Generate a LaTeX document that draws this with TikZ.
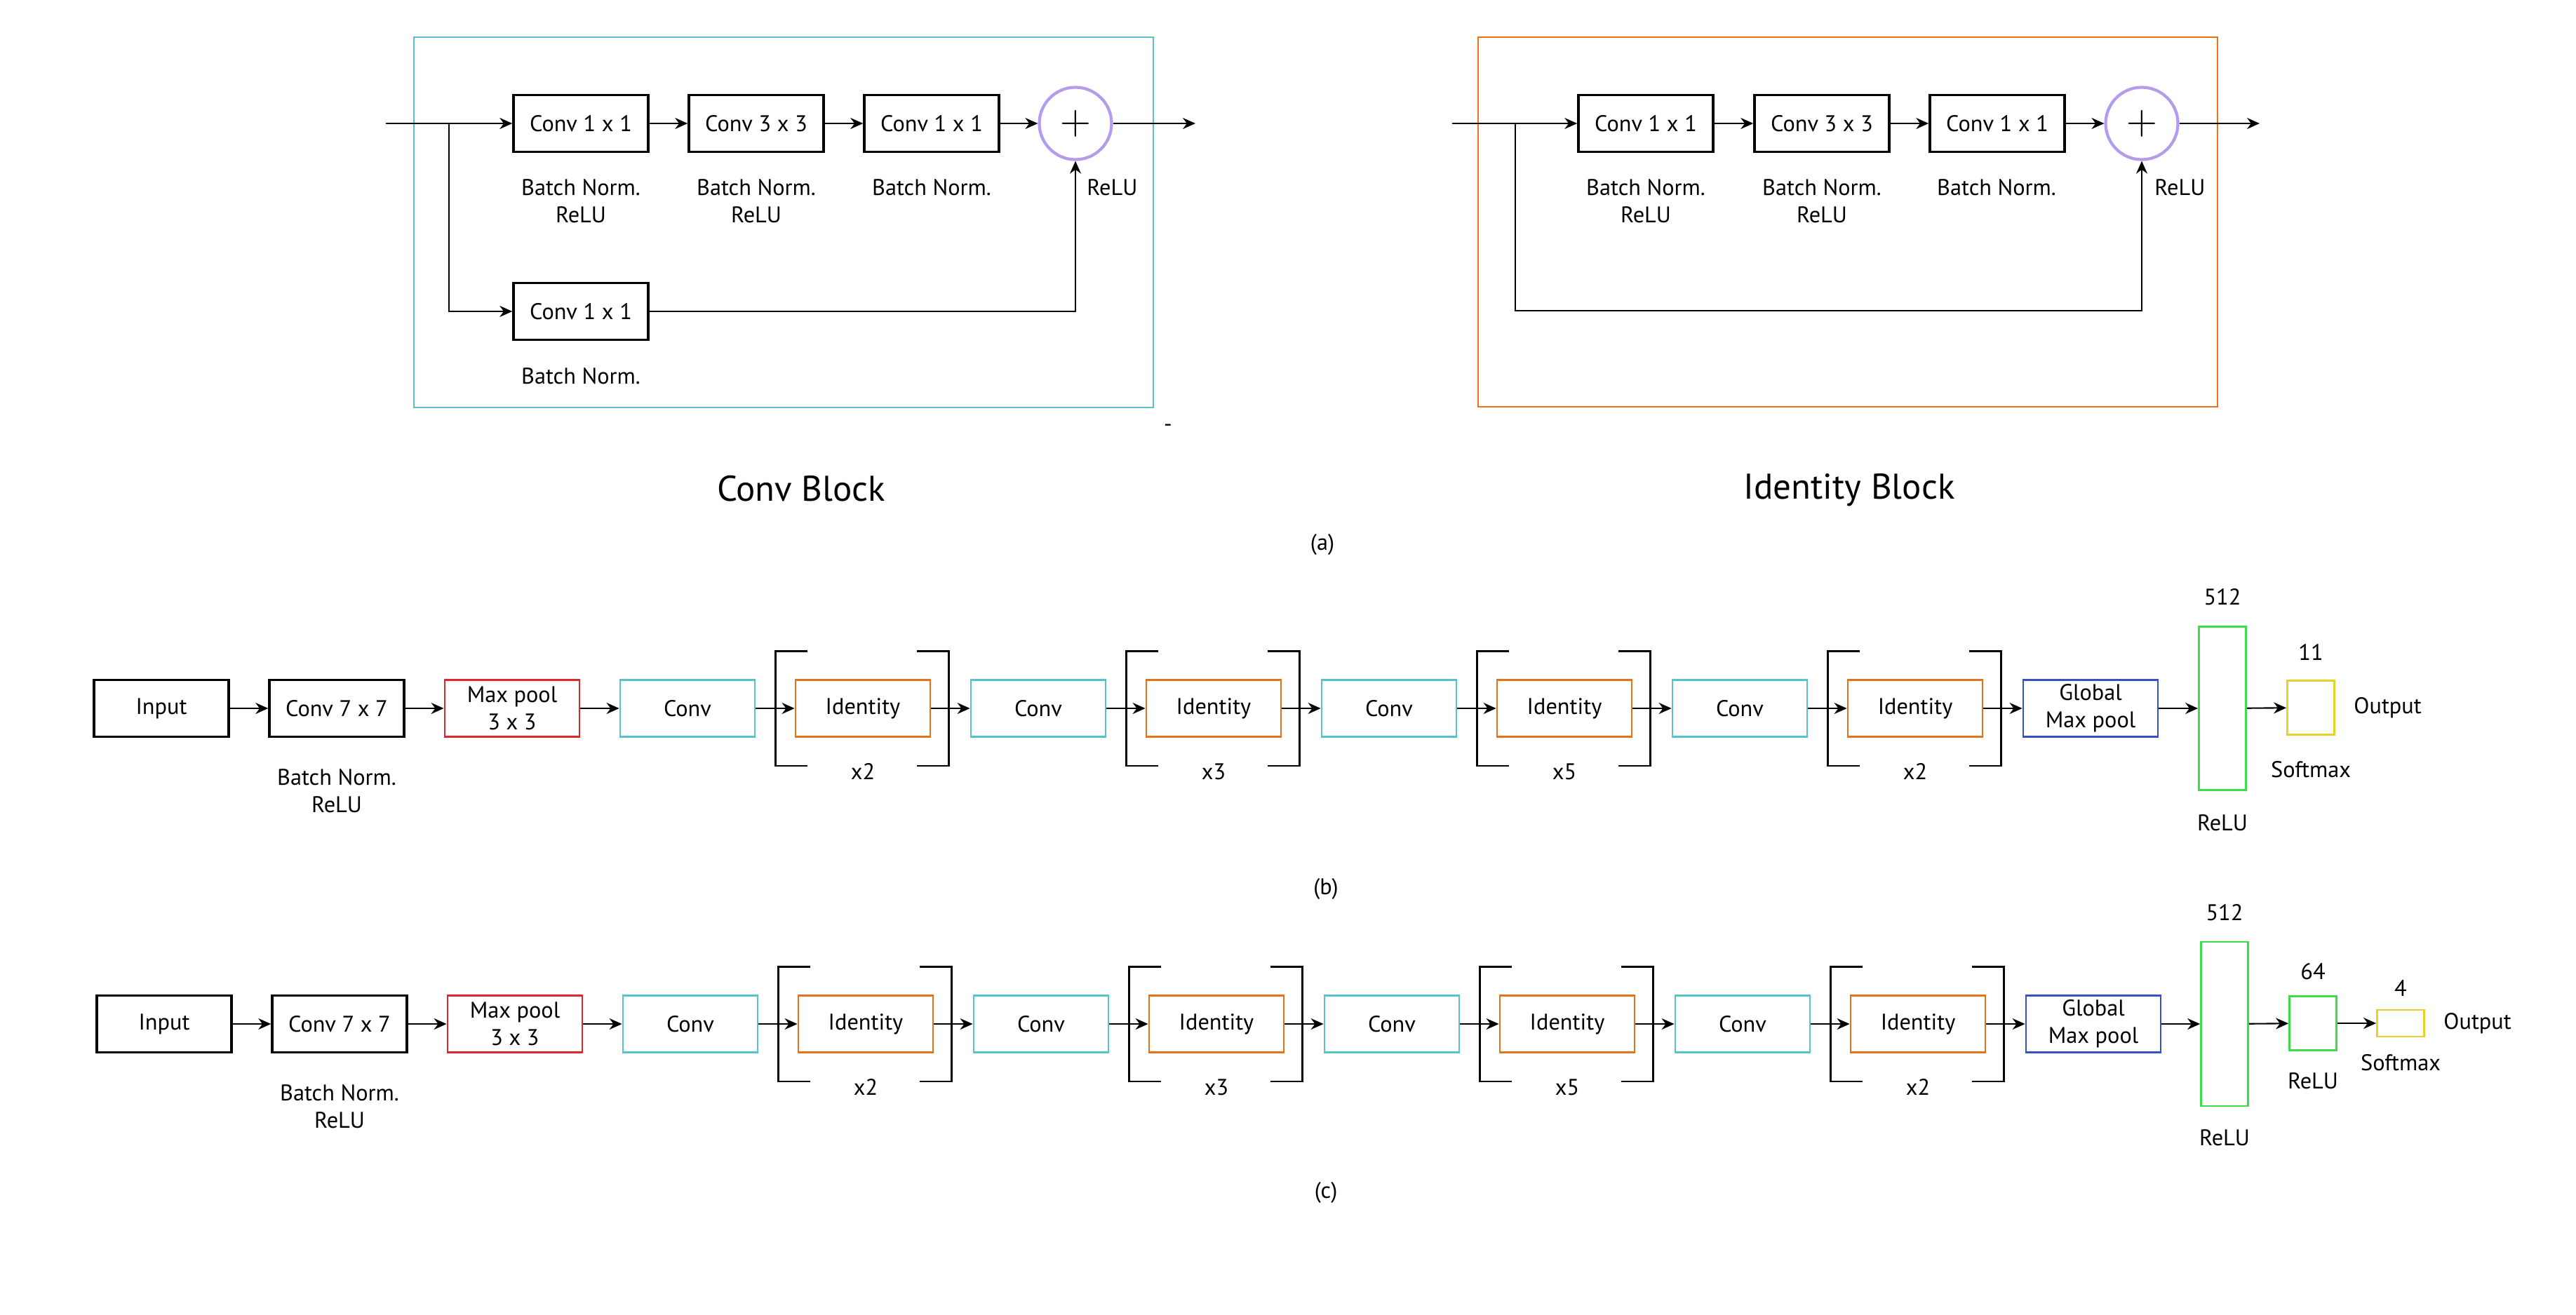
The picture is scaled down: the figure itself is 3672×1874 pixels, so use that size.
\documentclass[tikz,border=0pt]{standalone}
\usepackage{fontspec}
\setmainfont{PT Sans}
\usetikzlibrary{arrows.meta,calc}
\begin{document}
\begin{tikzpicture}[x=0.1mm, y=-0.1mm, thick]

  % Define Colors
  \definecolor{convteal}{RGB}{85,195,200}
  \definecolor{idorange}{RGB}{230,115,25}
  \definecolor{poolred}{RGB}{220,40,45}
  \definecolor{gmpblue}{RGB}{55,80,200}
  \definecolor{densegreen}{RGB}{60,220,75}
  \definecolor{outyellow}{RGB}{230,210,40}
  \definecolor{addpurple}{RGB}{180,155,235}

  % Node styles
  \tikzstyle{lbl}=[inner sep=0pt, align=center, font=\fontsize{9.2}{11}\selectfont]
  \tikzstyle{kbox}=[lbl, rectangle, draw=black, line width=1pt, minimum width=19.2mm, minimum height=8.1mm]
  \tikzstyle{cconv}=[kbox, draw=convteal, line width=0.8pt]
  \tikzstyle{cid}=[kbox, draw=idorange, line width=0.8pt]
  \tikzstyle{cpool}=[kbox, draw=poolred, line width=0.8pt]
  \tikzstyle{cgmp}=[kbox, draw=gmpblue, line width=0.8pt]
  \tikzstyle{cdense}=[lbl, rectangle, draw=densegreen, line width=0.8pt, minimum width=6.7mm]
  \tikzstyle{cout}=[lbl, rectangle, draw=outyellow, line width=0.8pt, minimum width=6.7mm]
  \tikzstyle{cadd}=[circle, draw=addpurple, line width=1.2pt, minimum size=10.3mm, inner sep=0pt, font=\fontsize{18}{18}\selectfont]
  \tikzstyle{title}=[inner sep=0pt, font=\fontsize{14.5}{17}\selectfont]

  \tikzstyle{arr}=[-{Stealth[length=1.8mm, width=1.6mm]}, line width=0.6pt]
  \tikzstyle{brk}=[line width=0.8pt]

  \useasboundingbox (0,0) rectangle (3672,1874);

  % Conv block
  \draw[convteal, line width=0.8pt] (590,53) rectangle (1644,581);
  \coordinate (cb_in) at (550,176);
  \coordinate (cb_br) at (640,176);
  \coordinate (cb_out) at (1704,176);
  \node[kbox] (cb_c1) at (828,176) {Conv 1 x 1};
  \node[kbox] (cb_c2) at (1078,176) {Conv 3 x 3};
  \node[kbox] (cb_c3) at (1328,176) {Conv 1 x 1};
  \node[cadd] (cb_add) at (1533,176) {$+$};
  \node[kbox] (cb_sc) at (828,444) {Conv 1 x 1};

  \node[lbl] (cb_t1) at (828,286.5) {Batch Norm.\\ReLU};
  \node[lbl] (cb_t2) at (1078,286.5) {Batch Norm.\\ReLU};
  \node[lbl] (cb_t3) at (1328,267) {Batch Norm.};
  \node[lbl, anchor=west] (cb_t4) at (1548,267) {ReLU};
  \node[lbl] (cb_t5) at (828,536) {Batch Norm.};
  \node[lbl] (cb_dash) at (1665,610) {-};

  \draw[arr] (cb_in) -- (cb_c1);
  \draw[arr] (cb_c1) -- (cb_c2);
  \draw[arr] (cb_c2) -- (cb_c3);
  \draw[arr] (cb_c3) -- (cb_add);
  \draw[arr] (cb_add) -- (cb_out);
  \draw[arr] (cb_br) |- (cb_sc);
  \draw[arr] (cb_sc) -| (cb_add);

  % Identity block
  \draw[idorange, line width=0.8pt] (2107,53) rectangle (3161,580);
  \coordinate (ib_in) at (2070,176);
  \coordinate (ib_br) at (2160,176);
  \coordinate (ib_low) at (2160,443);
  \coordinate (ib_out) at (3221,176);
  \node[kbox] (ib_c1) at (2346,176) {Conv 1 x 1};
  \node[kbox] (ib_c2) at (2597,176) {Conv 3 x 3};
  \node[kbox] (ib_c3) at (2847,176) {Conv 1 x 1};
  \node[cadd] (ib_add) at (3053,176) {$+$};

  \node[lbl] (ib_t1) at (2346,286.5) {Batch Norm.\\ReLU};
  \node[lbl] (ib_t2) at (2597,286.5) {Batch Norm.\\ReLU};
  \node[lbl] (ib_t3) at (2846,267) {Batch Norm.};
  \node[lbl, anchor=west] (ib_t4) at (3070,267) {ReLU};

  \draw[arr] (ib_in) -- (ib_c1);
  \draw[arr] (ib_c1) -- (ib_c2);
  \draw[arr] (ib_c2) -- (ib_c3);
  \draw[arr] (ib_c3) -- (ib_add);
  \draw[arr] (ib_add) -- (ib_out);
  \draw[arr] (ib_br) -- (ib_low) -| (ib_add);

  \node[title] (cb_title) at (1142,697) {Conv Block};
  \node[title] (ib_title) at (2636,699) {Identity Block};
  \node[lbl] (cap_a) at (1885,777) {(a)};

  % Network (b)
  \node[kbox] (b_in) at (230,1010) {Input};
  \node[kbox] (b_c7) at (480,1010) {Conv 7 x 7};
  \node[cpool] (b_mp) at (730,1010) {Max pool\\3 x 3};
  \node[cconv] (b_c1) at (980,1010) {Conv};
  \node[cid] (b_i1) at (1230,1010) {Identity};
  \node[cconv] (b_c2) at (1480,1010) {Conv};
  \node[cid] (b_i2) at (1730,1010) {Identity};
  \node[cconv] (b_c3) at (1980,1010) {Conv};
  \node[cid] (b_i3) at (2230,1010) {Identity};
  \node[cconv] (b_c4) at (2480,1010) {Conv};
  \node[cid] (b_i4) at (2730,1010) {Identity};
  \node[cgmp] (b_gp) at (2980,1010) {Global\\Max pool};
  \node[cdense, minimum height=23.3mm] (b_d1) at (3168,1010) {};
  \node[cout, minimum height=7.7mm] (b_out) at (3294,1009) {};

  \node[lbl] (b_t1) at (480,1127.5) {Batch Norm.\\ReLU};
  \node[lbl] (b_n1) at (1230,1100) {x2};
  \node[lbl] (b_n2) at (1730,1100) {x3};
  \node[lbl] (b_n3) at (2230,1100) {x5};
  \node[lbl] (b_n4) at (2730,1100) {x2};
  \node[lbl] (b_u1) at (3168,851) {512};
  \node[lbl] (b_r1) at (3168,1173) {ReLU};
  \node[lbl] (b_u2) at (3294,930) {11};
  \node[lbl] (b_s) at (3294,1097) {Softmax};
  \node[lbl, anchor=west] (b_o) at (3354,1009) {Output};
  \node[lbl] (cap_b) at (1890,1268) {(b)};

  % Network (c)
  \node[kbox] (c_in) at (234,1460) {Input};
  \node[kbox] (c_c7) at (484,1460) {Conv 7 x 7};
  \node[cpool] (c_mp) at (734,1460) {Max pool\\3 x 3};
  \node[cconv] (c_c1) at (984,1460) {Conv};
  \node[cid] (c_i1) at (1234,1460) {Identity};
  \node[cconv] (c_c2) at (1484,1460) {Conv};
  \node[cid] (c_i2) at (1734,1460) {Identity};
  \node[cconv] (c_c3) at (1984,1460) {Conv};
  \node[cid] (c_i3) at (2234,1460) {Identity};
  \node[cconv] (c_c4) at (2484,1460) {Conv};
  \node[cid] (c_i4) at (2734,1460) {Identity};
  \node[cgmp] (c_gp) at (2984,1460) {Global\\Max pool};
  \node[cdense, minimum height=23.4mm] (c_d1) at (3171,1460) {};
  \node[cdense, minimum height=7.7mm] (c_d2) at (3297,1459) {};
  \node[cout, minimum height=3.8mm] (c_out) at (3422,1459) {};

  \node[lbl] (c_t1) at (484,1577.5) {Batch Norm.\\ReLU};
  \node[lbl] (c_n1) at (1234,1550) {x2};
  \node[lbl] (c_n2) at (1734,1550) {x3};
  \node[lbl] (c_n3) at (2234,1550) {x5};
  \node[lbl] (c_n4) at (2734,1550) {x2};
  \node[lbl] (c_u1) at (3171,1301) {512};
  \node[lbl] (c_r1) at (3171,1622) {ReLU};
  \node[lbl] (c_u2) at (3297,1385) {64};
  \node[lbl] (c_r2) at (3297,1541) {ReLU};
  \node[lbl] (c_u3) at (3422,1409) {4};
  \node[lbl] (c_s) at (3422,1515) {Softmax};
  \node[lbl, anchor=west] (c_o) at (3482,1459) {Output};
  \node[lbl] (cap_c) at (1890,1701) {(c)};

  % Links
  \foreach \a/\b in {b_in/b_c7, b_c7/b_mp, b_mp/b_c1, b_c1/b_i1, b_i1/b_c2, b_c2/b_i2,
      b_i2/b_c3, b_c3/b_i3, b_i3/b_c4, b_c4/b_i4, b_i4/b_gp, b_gp/b_d1, b_d1/b_out,
      c_in/c_c7, c_c7/c_mp, c_mp/c_c1, c_c1/c_i1, c_i1/c_c2, c_c2/c_i2, c_i2/c_c3,
      c_c3/c_i3, c_i3/c_c4, c_c4/c_i4, c_i4/c_gp, c_gp/c_d1, c_d1/c_d2, c_d2/c_out}
    \draw[arr] (\a) -- (\b);

  % Brackets
  \foreach \n in {b_i1, b_i2, b_i3, b_i4, c_i1, c_i2, c_i3, c_i4}{
    \draw[brk] ($(\n.north west)+(18,-40)$) -- ($(\n.north west)+(-27,-40)$)
      -- ($(\n.south west)+(-27,40)$) -- ($(\n.south west)+(18,40)$);
    \draw[brk] ($(\n.north east)+(-20,-40)$) -- ($(\n.north east)+(25,-40)$)
      -- ($(\n.south east)+(25,40)$) -- ($(\n.south east)+(-20,40)$);
  }

\end{tikzpicture}
\end{document}
